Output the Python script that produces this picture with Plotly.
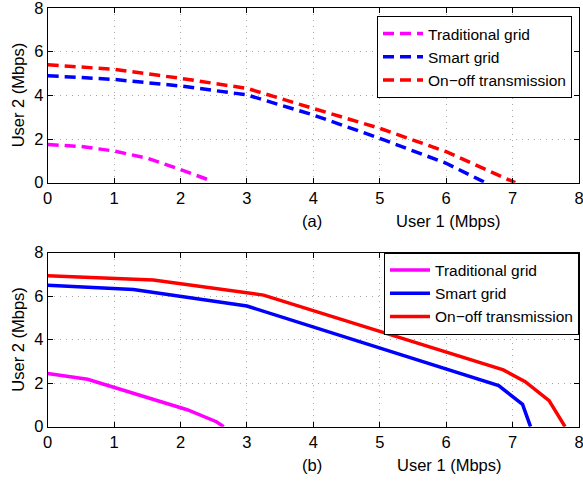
import plotly.graph_objects as go

# ---- data: panel (a) ----
a_trad_x = [0, 0.5, 1.0, 1.5, 2.0, 2.45]
a_trad_y = [1.75, 1.66, 1.45, 1.12, 0.6, 0.1]
a_smart_x = [0, 1, 2, 3, 4, 5, 6, 6.59]
a_smart_y = [4.9, 4.73, 4.43, 4.02, 3.1, 2.03, 0.89, 0.0]
a_onoff_x = [0, 1, 2, 3, 4, 5, 6, 7.04]
a_onoff_y = [5.4, 5.19, 4.78, 4.32, 3.4, 2.49, 1.42, 0.0]

# ---- data: panel (b) ----
b_trad_x = [0, 0.6, 2.1, 2.54, 2.65]
b_trad_y = [2.45, 2.18, 0.78, 0.23, 0.0]
b_smart_x = [0, 1.29, 3.0, 6.79, 7.15, 7.27]
b_smart_y = [6.5, 6.31, 5.55, 1.89, 1.03, 0.0]
b_onoff_x = [0, 1.59, 3.25, 6.86, 7.19, 7.55, 7.79]
b_onoff_y = [6.94, 6.74, 6.05, 2.61, 2.07, 1.2, 0.0]

names = ["Traditional grid", "Smart grid", "On\u2212off transmission"]
colors = ["#ff00ff", "#0000ff", "#ff0000"]
x_ticks = [0, 1, 2, 3, 4, 5, 6, 7, 8]
y_ticks = [0, 2, 4, 6, 8]

W, H = 583, 481
FONT = "Liberation Sans, Arial, sans-serif"
FS = 16.5
LFS = 15.5

fig = go.Figure()
for (x, y), n, c in zip([(a_trad_x, a_trad_y), (a_smart_x, a_smart_y), (a_onoff_x, a_onoff_y)], names, colors):
    fig.add_trace(go.Scatter(x=x, y=y, mode="lines", name=n, xaxis="x", yaxis="y",
                             line=dict(color=c, width=3.5, dash="11px,6px"), legend="legend"))
for (x, y), n, c in zip([(b_trad_x, b_trad_y), (b_smart_x, b_smart_y), (b_onoff_x, b_onoff_y)], names, colors):
    fig.add_trace(go.Scatter(x=x, y=y, mode="lines", name=n, xaxis="x2", yaxis="y2",
                             line=dict(color=c, width=3.5), legend="legend2"))

def px_x(p):
    return p / W

def px_y(p):
    return 1 - p / H

x0, x1 = 47.7, 579.0
top_t, top_b = 8.0, 182.7
bot_t, bot_b = 252.7, 426.7

axis_common = dict(showline=True, linecolor="black", linewidth=1, mirror="ticks",
                   ticks="inside", ticklen=5, tickcolor="black", automargin=False,
                   ticklabeloverflow="allow",
                   showgrid=True, gridcolor="#a8a8a8", griddash="1px,5px", gridwidth=1,
                   zeroline=False, tickfont=dict(family=FONT, size=FS, color="black"))

fig.update_layout(
    width=W, height=H,
    margin=dict(l=0, r=0, t=0, b=0, autoexpand=False),
    paper_bgcolor="white", plot_bgcolor="white",
    font=dict(family=FONT, size=FS, color="black"),
    xaxis=dict(domain=[px_x(x0), px_x(x1)], range=[0, 8], tickvals=x_ticks, anchor="y", **axis_common),
    yaxis=dict(domain=[px_y(top_b), px_y(top_t)], range=[0, 8], tickvals=y_ticks, anchor="x", **axis_common),
    xaxis2=dict(domain=[px_x(x0), px_x(x1)], range=[0, 8], tickvals=x_ticks, anchor="y2", **axis_common),
    yaxis2=dict(domain=[px_y(bot_b), px_y(bot_t)], range=[0, 8], tickvals=y_ticks, anchor="x2", **axis_common),
    legend=dict(x=px_x(572), xanchor="right", y=px_y(16), yanchor="top",
                bgcolor="white", bordercolor="black", borderwidth=1,
                font=dict(family=FONT, size=LFS), tracegroupgap=0, itemwidth=40),
    legend2=dict(x=px_x(579), xanchor="right", y=px_y(252.5), yanchor="top",
                 bgcolor="white", bordercolor="black", borderwidth=1,
                 font=dict(family=FONT, size=LFS), tracegroupgap=0, itemwidth=40),
    showlegend=True,
)

annots = [
    dict(text="(a)", x=px_x(312), y=px_y(221)),
    dict(text="User 1 (Mbps)", x=px_x(448), y=px_y(221)),
    dict(text="(b)", x=px_x(312), y=px_y(465)),
    dict(text="User 1 (Mbps)", x=px_x(449), y=px_y(465)),
]
for a in annots:
    fig.add_annotation(xref="paper", yref="paper", showarrow=False, xanchor="center", yanchor="middle",
                       font=dict(family=FONT, size=FS, color="black"), **a)
for yc in [(top_t + top_b) / 2, (bot_t + bot_b) / 2]:
    fig.add_annotation(text="User 2 (Mbps)", xref="paper", yref="paper", x=px_x(18), y=px_y(yc),
                       textangle=-90, showarrow=False, xanchor="center", yanchor="middle",
                       font=dict(family=FONT, size=FS, color="black"))

fig.write_html("out.html")
